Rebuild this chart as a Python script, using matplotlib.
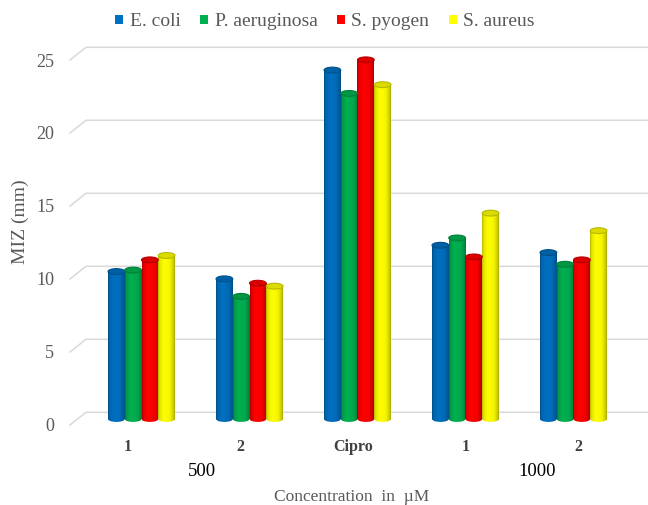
import numpy as np
import matplotlib
matplotlib.use("Agg")
import matplotlib.pyplot as plt
from matplotlib.patches import Ellipse, Patch
from matplotlib.transforms import blended_transform_factory

# ---- data -------------------------------------------------------------
groups = ["1", "2", "Cipro", "1", "2"]
conc_labels = ["500", "1000"]
conc_members = [[0, 1], [3, 4]]
series = ["E. coli", "P. aeruginosa", "S. pyogen", "S. aureus"]
e_coli = [10.1, 9.6, 23.9, 11.9, 11.4]
p_aeruginosa = [10.2, 8.4, 22.3, 12.4, 10.6]
s_pyogen = [10.9, 9.3, 24.6, 11.1, 10.9]
s_aureus = [11.2, 9.1, 22.9, 14.1, 12.9]
yticks = [0, 5, 10, 15, 20, 25]

values = [e_coli, p_aeruginosa, s_pyogen, s_aureus]
colors = ["#0070C0", "#00B050", "#FF0000", "#FFFF00"]

plt.rcParams["font.family"] = ["Liberation Serif", "DejaVu Serif"]

fig = plt.figure(figsize=(6.48, 5.05), dpi=100)
ax = fig.add_axes([86 / 648, 73 / 505, 562 / 648, 392 / 505])

x = np.arange(len(groups))
bar_w = 0.155
front = 0.41      # front edge of the floor sits below the bar bases
back = 0.46       # back wall sits above the bar bases
cap_h = 0.40      # height of the elliptical caps in data units

# cylinder shading across the width of a bar
t = np.linspace(0, 1, 80)
shade = np.interp(t, [0, 0.1, 0.35, 0.7, 0.9, 1.0],
                  [0.70, 0.90, 1.0, 0.96, 0.82, 0.66])

# ---- back wall gridlines with perspective floor edge ------------------
tr = blended_transform_factory(ax.transAxes, ax.transData)
for v in yticks:
    ax.plot([-0.0285, 0, 1], [v - front, v + back, v + back], transform=tr,
            color="#D9D9D9", lw=1.1, clip_on=False, zorder=0)

# ---- cylinders --------------------------------------------------------
n = len(series)
for k, (vals, col) in enumerate(zip(values, colors)):
    base = np.array(matplotlib.colors.to_rgb(col))
    grad = np.clip(base[None, None, :] * shade[None, :, None], 0, 1)
    xs = x + (k - (n - 1) / 2) * bar_w
    bars = ax.bar(xs, vals, width=bar_w, color=col, linewidth=0, zorder=2 + k * 0.01)
    for xc, v, rect in zip(xs, vals, bars):
        x0, x1 = xc - bar_w / 2, xc + bar_w / 2
        im = ax.imshow(grad, extent=(x0, x1, 0, v), aspect="auto",
                       interpolation="bilinear", zorder=2.1 + k * 0.01)
        im.set_clip_path(rect)
        bottom = Ellipse((xc, 0), bar_w, cap_h, facecolor="none", edgecolor="none")
        ax.add_patch(bottom)
        im2 = ax.imshow(grad, extent=(x0, x1, -cap_h / 2, 0), aspect="auto",
                        interpolation="bilinear", zorder=2.1 + k * 0.01)
        im2.set_clip_path(bottom)
        top = Ellipse((xc, v), bar_w, cap_h, facecolor=base * 0.86,
                      edgecolor=base * 0.72, lw=0.8, zorder=2.2 + k * 0.01)
        ax.add_patch(top)

# ---- axes -------------------------------------------------------------
ax.set_xlim(-0.514, 4.690)
ax.set_ylim(-0.89, 25.96)
for s in ax.spines.values():
    s.set_visible(False)

tick_pos = x - 0.042 + 0.044 * (x - 2)
ax.set_xticks(tick_pos, groups)
for lab in ax.get_xticklabels():
    lab.set_fontweight("bold")
ax.tick_params(axis="x", length=0, pad=5, labelsize=11.5, labelcolor="#404040")

ax.set_yticks(np.array(yticks) - front, [str(v) for v in yticks])
ax.tick_params(axis="y", length=0, pad=23, labelsize=13, labelcolor="#595959")

xt = ax.get_xaxis_transform()
for lab, members in zip(conc_labels, conc_members):
    mid = np.mean(members)
    ax.text(mid + 0.11 + 0.033 * (mid - 2), -0.102, lab, transform=xt,
            ha="center", va="center", fontsize=13.5, color="black")

fig.text(352 / 648, 1 - 497 / 505, "Concentration  in  µM", ha="center",
         va="center", fontsize=12.5, color="#595959")
fig.text(20 / 648, 1 - 222 / 505, "MIZ (mm)", ha="center", va="center",
         rotation=90, fontsize=14, color="#595959")

handles = [Patch(facecolor=c, edgecolor="none") for c in colors]
fig.legend(handles, series, loc="center", bbox_to_anchor=(325 / 648, 1 - 22 / 505),
           ncol=4, frameon=False, handlelength=0.4, handleheight=0.4,
           handletextpad=0.35, columnspacing=1.0, fontsize=14, labelcolor="#595959")

fig.savefig("out.png", dpi=100)
